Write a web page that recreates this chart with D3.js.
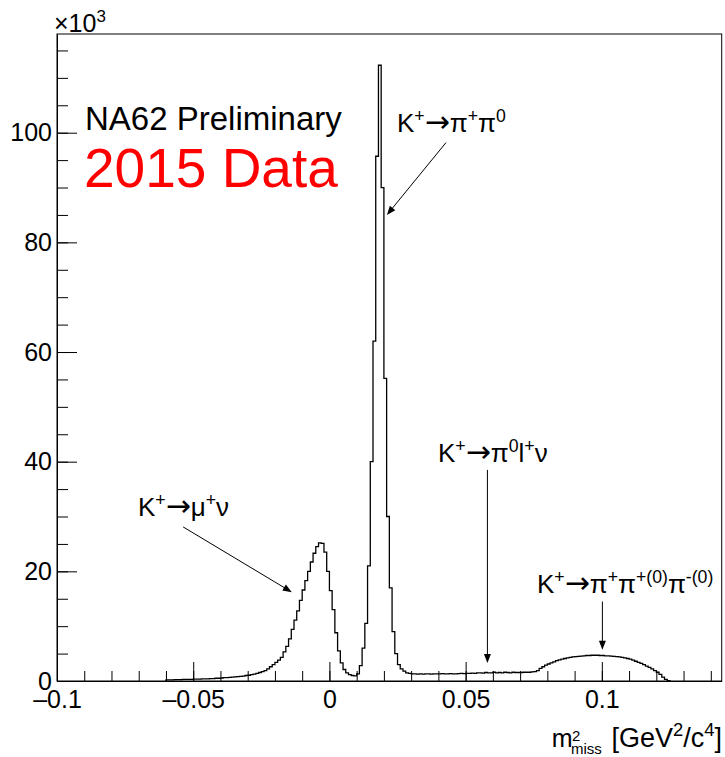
<!DOCTYPE html>
<html>
<head>
<meta charset="utf-8">
<script src="https://cdn.jsdelivr.net/npm/d3@7"></script>
<style>
  body { margin: 0; background: #fff; }
  svg { display: block; font-family: "Liberation Sans", Arial, Helvetica, sans-serif; }
</style>
</head>
<body>
<div id="chart"></div>
<script>
// histogram binning (GeV^2/c^4), counts in units of 10^3
var binStart = -0.060;
var binWidth = 0.001;

// K -> mu nu low tail  (-0.060 .. -0.021)
var tailCounts = [0.2,0.2,0.2,0.25,0.25,0.25,0.3,0.3,0.3,0.3,
                  0.35,0.35,0.35,0.4,0.4,0.4,0.45,0.45,0.5,0.5,
                  0.55,0.6,0.6,0.65,0.7,0.75,0.8,0.85,0.9,1.0,
                  1.05,1.15,1.25,1.4,1.55,1.7,1.9,2.2,2.6,3.0];
// K -> mu nu peak  (-0.020 .. 0.009)
var muNuCounts = [3.4,3.8,4.3,5.3,6.3,7.7,9.4,11.1,12.8,14.7,
                  16.6,18.3,20.0,21.7,23.3,24.5,25.2,25.1,23.5,20.0,
                  16.5,13.0,8.8,5.5,3.3,2.1,1.5,1.15,1.0,0.95];
// K -> pi pi0 peak  (0.010 .. 0.029)
var pipi0Counts = [1.3,2.8,6.0,10.5,21.0,40.0,62.0,95.7,112.3,90.0,
                   55.2,30.0,17.0,9.0,5.0,3.0,2.2,1.8,1.5,1.4];
// signal region / K -> pi0 l nu  (0.030 .. 0.075)
var flatCounts = [1.3,1.3,1.25,1.3,1.25,1.3,1.3,1.25,1.3,1.3,
                  1.3,1.35,1.3,1.3,1.35,1.3,1.3,1.35,1.4,1.35,
                  1.4,1.4,1.45,1.4,1.5,1.5,1.45,1.55,1.5,1.5,
                  1.6,1.5,1.55,1.5,1.6,1.55,1.5,1.6,1.55,1.55,
                  1.55,1.6,1.6,1.6,1.65,1.7];
// K -> 3 pi  (0.076 .. 0.124)
var threePiCounts = [1.9,2.3,2.6,2.9,3.1,3.3,3.5,3.7,3.85,4.0,
                     4.1,4.2,4.3,4.4,4.45,4.5,4.55,4.6,4.65,4.65,
                     4.7,4.7,4.7,4.65,4.65,4.6,4.6,4.55,4.5,4.45,
                     4.4,4.3,4.2,4.1,4.0,3.8,3.6,3.4,3.2,3.0,
                     2.7,2.5,2.2,1.9,1.6,1.2,0.7,0.3,0.05];

var xMajorTicks = [-0.1, -0.05, 0, 0.05, 0.1];
var yMajorTicks = [0, 20, 40, 60, 80, 100];

function init() {
    var w = 725, h = 757;
    var counts = tailCounts.concat(muNuCounts, pipi0Counts, flatCounts, threePiCounts);

    var svg = d3.select("#chart").append("svg")
        .attr("width", w)
        .attr("height", h);

    var xScale = d3.scaleLinear().domain([-0.1, 0.144]).range([57, 721.7]);
    var yScale = d3.scaleLinear().domain([0, 118]).range([681, 34]);

    //frame
    svg.append("rect")
        .attr("x", 57).attr("y", 34)
        .attr("width", 721.7 - 57).attr("height", 681 - 34)
        .attr("fill", "none").attr("stroke", "#000").attr("stroke-width", 1);

    //minor ticks
    svg.append("g")
        .attr("transform", "translate(0,681)")
        .call(d3.axisBottom(xScale).tickValues(d3.range(-10, 15).map(function(i) { return i / 100; }))
            .tickSizeInner(-10).tickSizeOuter(0).tickFormat(""))
        .call(function(g) { g.select(".domain").remove(); });
    svg.append("g")
        .attr("transform", "translate(57,0)")
        .call(d3.axisLeft(yScale).tickValues(d3.range(0, 120, 5))
            .tickSizeInner(-11).tickSizeOuter(0).tickFormat(""))
        .call(function(g) { g.select(".domain").remove(); });

    //major ticks + labels
    var xAxis = svg.append("g")
        .attr("transform", "translate(0,681)")
        .call(d3.axisBottom(xScale).tickValues(xMajorTicks)
            .tickSizeInner(-19).tickSizeOuter(0).tickPadding(9)
            .tickFormat(function(d) { return d < 0 ? "\u2013" + Math.abs(d) : String(d); }));
    var yAxis = svg.append("g")
        .attr("transform", "translate(57,0)")
        .call(d3.axisLeft(yScale).tickValues(yMajorTicks)
            .tickSizeInner(-20).tickSizeOuter(0).tickPadding(5));
    [xAxis, yAxis].forEach(function(g) {
        g.attr("font-family", null).attr("font-size", null);
        g.selectAll("text").style("font-size", "25px").attr("fill", "#000");
        g.select(".domain").attr("stroke", "#000");
    });
    svg.selectAll(".tick line").attr("stroke", "#000");

    //histogram outline
    var pts = [[binStart, 0]];
    counts.forEach(function(c, i) { pts.push([binStart + i * binWidth, c]); });
    pts.push([binStart + counts.length * binWidth, 0]);
    var line = d3.line()
        .x(function(d) { return xScale(d[0]); })
        .y(function(d) { return yScale(d[1]); })
        .curve(d3.curveStepAfter);
    svg.append("path")
        .datum(pts)
        .attr("d", line)
        .attr("fill", "none")
        .attr("stroke", "#000")
        .attr("stroke-width", 1.3);

    //rich text helper: parts [text, "sup"|"arrow"|undefined]
    function rich(x0, y0, size, parts, fill) {
        var t = svg.append("text").attr("x", x0).attr("y", y0)
            .style("font-size", size + "px").attr("fill", fill || "#000");
        var shift = 0;
        parts.forEach(function(p) {
            var target = p[1] === "sup" ? -0.4 * size : 0;
            var ts = t.append("tspan").attr("dy", target - shift).text(p[0]);
            if (p[1] === "sup") ts.style("font-size", (size * 0.68) + "px");
            if (p[1] === "arrow") ts.style("font-family", "'DejaVu Sans'").style("font-size", (size * 1.15) + "px");
            shift = target;
        });
        return t;
    }

    //x10^3
    rich(54, 32, 25, [["\u00d710"], ["3", "sup"]]);

    svg.append("text").attr("x", 85).attr("y", 130)
        .style("font-size", "33px").text("NA62 Preliminary");
    svg.append("text").attr("x", 84).attr("y", 187)
        .style("font-size", "55px").attr("fill", "#ff0000").text("2015 Data");

    //decay labels
    var arr = ["\u2192", "arrow"];
    rich(397, 132, 26, [["K"], ["+", "sup"], arr, ["\u03c0"], ["+", "sup"], ["\u03c0"], ["0", "sup"]]);
    rich(138, 516, 26, [["K"], ["+", "sup"], arr, ["\u03bc"], ["+", "sup"], ["\u03bd"]]);
    rich(438, 462, 26, [["K"], ["+", "sup"], arr, ["\u03c0"], ["0", "sup"], ["l"], ["+", "sup"], ["\u03bd"]]);
    rich(537, 593, 26, [["K"], ["+", "sup"], arr, ["\u03c0"], ["+", "sup"], ["\u03c0"], ["+(0)", "sup"], ["\u03c0"], ["-(0)", "sup"]]);

    //arrows (data coordinates)
    function arrow(x1, y1, x2, y2) {
        var ax = xScale(x1), ay = yScale(y1), bx = xScale(x2), by = yScale(y2);
        var ang = Math.atan2(by - ay, bx - ax);
        var len = 9, hw = 3.5;
        svg.append("line")
            .attr("x1", ax).attr("y1", ay).attr("x2", bx - Math.cos(ang) * 4).attr("y2", by - Math.sin(ang) * 4)
            .attr("stroke", "#000").attr("stroke-width", 1);
        var p1 = [bx - Math.cos(ang) * len + Math.sin(ang) * hw, by - Math.sin(ang) * len - Math.cos(ang) * hw];
        var p2 = [bx - Math.cos(ang) * len - Math.sin(ang) * hw, by - Math.sin(ang) * len + Math.cos(ang) * hw];
        svg.append("path")
            .attr("d", "M" + bx + "," + by + "L" + p1 + "L" + p2 + "Z")
            .attr("fill", "#000");
    }
    arrow(0.0428, 98.2, 0.0211, 85.0);
    arrow(-0.0537, 28.1, -0.0138, 16.2);
    arrow(0.0580, 38.5, 0.0580, 3.3);
    arrow(0.1002, 14.5, 0.1002, 5.7);

    //x axis title
    svg.append("text").attr("x", 551.7).attr("y", 746.5).style("font-size", "25px").text("m");
    svg.append("text").attr("x", 572).attr("y", 741).style("font-size", "15px").text("2");
    svg.append("text").attr("x", 571).attr("y", 754).style("font-size", "15px").text("miss");
    rich(722, 746.5, 27, [["[GeV"], ["2", "sup"], ["/c"], ["4", "sup"], ["]"]])
        .attr("text-anchor", "end");
}
window.onload = init;
</script>
</body>
</html>
